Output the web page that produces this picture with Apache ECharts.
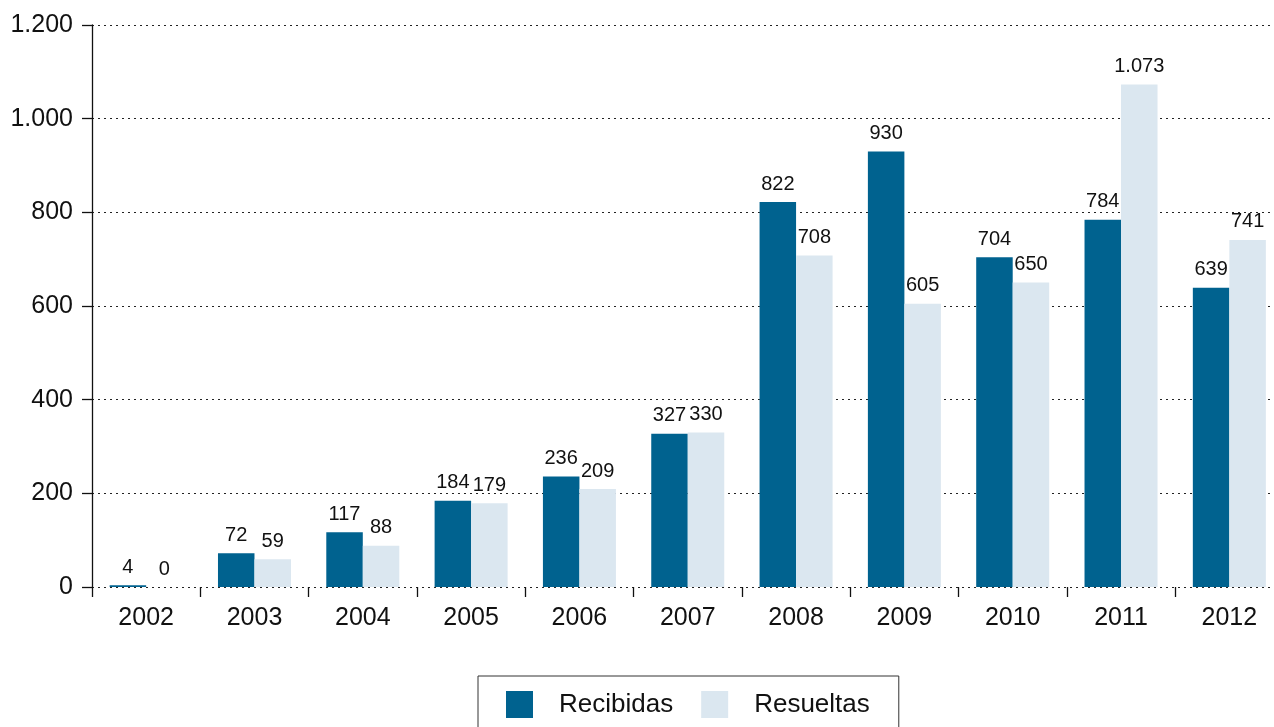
<!DOCTYPE html>
<html>
<head>
<meta charset="utf-8">
<script src="https://cdn.jsdelivr.net/npm/echarts@6/dist/echarts.min.js"></script>
<style>
  html, body { margin: 0; padding: 0; background: #fff; overflow: hidden; }
  /* the plot runs slightly past the right edge of the window */
  #chart { width: 1284px; height: 727px; }
</style>
</head>
<body>
<div id="chart"></div>
<script>
// Yearly counts of cases received and resolved
const years = ['2002', '2003', '2004', '2005', '2006', '2007', '2008', '2009', '2010', '2011', '2012'];
const recibidas = [4, 72, 117, 184, 236, 327, 822, 930, 704, 784, 639];
const resueltas = [0, 59, 88, 179, 209, 330, 708, 605, 650, 1073, 741];
const seriesNames = ['Recibidas', 'Resueltas'];

const FONT = '"Liberation Sans", Helvetica, Arial, sans-serif';

// Spanish-style thousands separator: 1073 -> "1.073"
function fmt(v) {
  return String(v).replace(/\B(?=(\d{3})+(?!\d))/g, '.');
}

const chart = echarts.init(document.getElementById('chart'), null, { renderer: 'canvas' });

const labelCfg = {
  show: true,
  position: 'top',
  distance: 8,
  color: '#111',
  fontFamily: FONT,
  fontSize: 20,
  formatter: p => fmt(p.value)
};

chart.setOption({
  animation: false,
  backgroundColor: '#ffffff',
  grid: { left: 92, right: 0.5, top: 25, bottom: 140, containLabel: false },
  legend: {
    data: seriesNames,
    left: 478,
    top: 676,
    orient: 'horizontal',
    itemWidth: 27,
    itemHeight: 27,
    itemGap: 28,
    padding: [15, 29, 16, 28],
    borderColor: '#333',
    borderWidth: 1,
    icon: 'rect',
    textStyle: { fontFamily: FONT, fontSize: 26, color: '#111', padding: [0, 0, 0, 21] }
  },
  xAxis: {
    type: 'category',
    data: years,
    axisLine: { show: false },
    axisTick: { show: true, length: 10, lineStyle: { color: '#111', width: 1.3 } },
    axisLabel: { margin: 19, fontFamily: FONT, fontSize: 25, color: '#111' },
    splitLine: { show: false }
  },
  yAxis: {
    type: 'value',
    min: 0,
    max: 1200,
    interval: 200,
    axisLine: { show: true, lineStyle: { color: '#111', width: 1.3 } },
    axisTick: { show: true, length: 10, lineStyle: { color: '#111', width: 1.3 } },
    axisLabel: { margin: 19, fontFamily: FONT, fontSize: 25, color: '#111', formatter: v => fmt(v) },
    splitLine: { show: true, lineStyle: { color: '#222', width: 1, type: [2, 4] } }
  },
  series: [
    {
      name: seriesNames[0],
      type: 'bar',
      data: recibidas,
      barWidth: '33.7%',
      barGap: '0%',
      itemStyle: { color: '#00628f' },
      label: labelCfg
    },
    {
      name: seriesNames[1],
      type: 'bar',
      data: resueltas,
      barWidth: '33.7%',
      barGap: '0%',
      itemStyle: { color: '#dbe7f0' },
      label: labelCfg
    }
  ]
});
</script>
</body>
</html>
